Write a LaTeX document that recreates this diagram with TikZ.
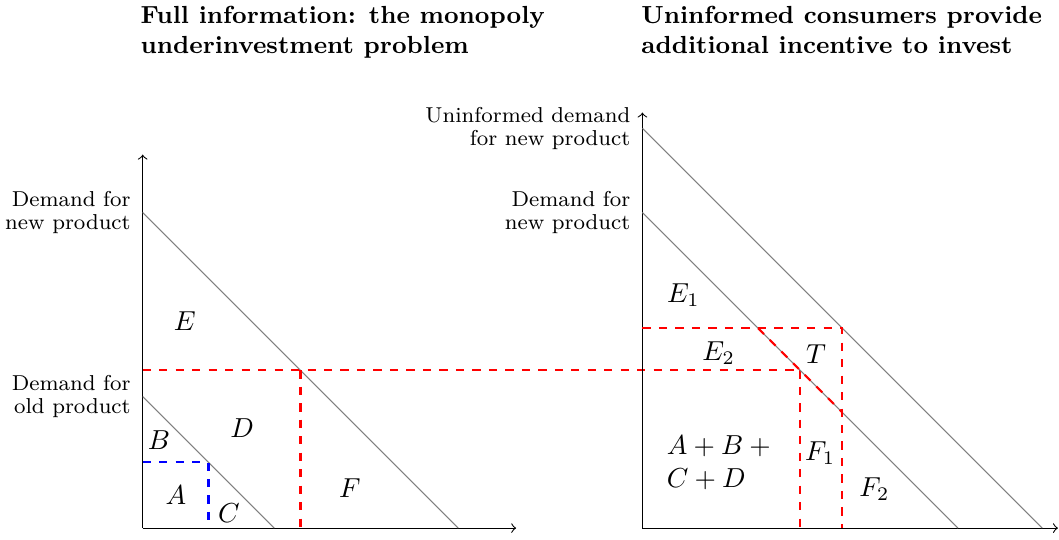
\documentclass[tikz,border=0pt]{standalone}
\begin{document}
\begin{tikzpicture}[x=0.673cm,y=0.673cm,
 axis/.style={->, line width=0.4pt},
 demand/.style={gray, line width=0.4pt},
 reddash/.style={red, thick, dashed},
 bluedash/.style={blue, thick, dashed},
 lab/.style={font=\fontsize{7.85}{8.3}\selectfont, align=right, anchor=east, inner sep=0pt},
 ttl/.style={font=\fontsize{9}{11}\selectfont\bfseries, align=left, anchor=north west, inner sep=0pt},
 area/.style={inner sep=0pt}]
\useasboundingbox (-2.713,-0.209) rectangle (17.42,10.04);
% titles
\node[ttl] (t1) at (-0.05,9.94) {Full information: the monopoly\\underinvestment problem};
\node[ttl] (t2) at (9.47,9.94) {Uninformed consumers provide\\additional incentive to invest};
% left panel
\coordinate (O1) at (0,0);
\coordinate (Y1) at (0,7.1);
\coordinate (X1) at (7.1,0);
\draw[axis] (O1) -- (Y1);
\draw[axis] (O1) -- (X1);
\coordinate (N1a) at (0,6);
\coordinate (N1b) at (6,0);
\coordinate (L1a) at (0,2.5);
\coordinate (L1b) at (2.5,0);
\draw[demand] (N1a) -- (N1b);
\draw[demand] (L1a) -- (L1b);
\coordinate (R1) at (0,3);
\coordinate (P) at (3,3);
\coordinate (P0) at (3,0);
\coordinate (Q) at (12.5,3);
\coordinate (Q0) at (12.5,0);
\draw[reddash] (R1) -- (Q);
\draw[reddash] (P) -- (P0);
\draw[reddash] (Q) -- (Q0);
\coordinate (B1) at (0,1.25);
\coordinate (B2) at (1.25,1.25);
\coordinate (B3) at (1.25,0);
\draw[bluedash] (B1) -- (B2) -- (B3);
\node[lab] (lnew) at (-0.22,6) {Demand for\\new product};
\node[lab] (lold) at (-0.22,2.5) {Demand for\\old product};
\node[area] (E) at (0.80,3.94) {$E$};
\node[area] (D) at (1.89,1.90) {$D$};
\node[area] (B) at (0.31,1.67) {$B$};
\node[area] (A) at (0.63,0.63) {$A$};
\node[area] (C) at (1.64,0.29) {$C$};
\node[area] (F) at (3.94,0.76) {$F$};
% right panel
\coordinate (O2) at (9.5,0);
\coordinate (Y2) at (9.5,7.9);
\coordinate (X2) at (17.4,0);
\draw[axis] (O2) -- (Y2);
\draw[axis] (O2) -- (X2);
\coordinate (U2a) at (9.5,7.6);
\coordinate (U2b) at (17.1,0);
\coordinate (N2a) at (9.5,6);
\coordinate (N2b) at (15.5,0);
\draw[demand] (U2a) -- (U2b);
\draw[demand] (N2a) -- (N2b);
\coordinate (S1) at (9.5,3.8);
\coordinate (S2) at (13.3,3.8);
\coordinate (S3) at (13.3,0);
\coordinate (D1) at (11.7,3.8);
\coordinate (D2) at (13.3,2.2);
\draw[reddash] (S1) -- (S2) -- (S3);
\draw[reddash] (D1) -- (D2);
\node[lab] (runinf) at (9.28,7.6) {Uninformed demand\\for new product};
\node[lab] (rnew) at (9.28,6) {Demand for\\new product};
\node[area] (E1) at (10.28,4.43) {$E_1$};
\node[area] (E2) at (10.95,3.33) {$E_2$};
\node[area] (T) at (12.80,3.31) {$T$};
\node[area] (F1) at (12.88,1.43) {$F_1$};
\node[area] (F2) at (13.91,0.74) {$F_2$};
\node[area, align=left] (ABCD) at (11.01,1.25) {$A+B+{}$\\$C+D$};
\end{tikzpicture}
\end{document}
